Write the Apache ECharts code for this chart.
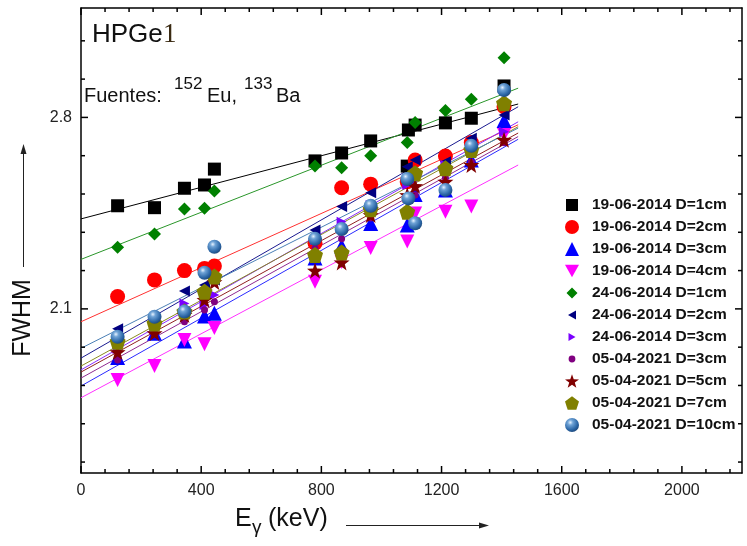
<!DOCTYPE html>
<html>
<head>
<meta charset="utf-8">
<script src="https://cdn.jsdelivr.net/npm/echarts@6/dist/echarts.min.js"></script>
<style>
  html, body { margin: 0; padding: 0; background: #fff; }
  #chart { width: 747px; height: 546px; }
</style>
</head>
<body>
<div id="chart"></div>
<script>
// Gamma energies of the 152Eu lines (keV)
const energies = [121.8, 244.7, 344.3, 411.1, 444.0, 778.9, 867.4, 964.1, 1085.8, 1089.7, 1112.1, 1212.9, 1299.1, 1408.0];

// Measured FWHM per run (null = line not measured)
const fwhm_140619_d1 = [2.477, 2.470, 2.541, 2.553, 2.611, 2.641, 2.670, 2.714, 2.622, 2.754, 2.772, 2.780, 2.797, 2.915];
const fwhm_140619_d2 = [2.145, 2.206, 2.240, 2.248, 2.257, 2.340, 2.543, 2.556, 2.565, null, 2.644, 2.659, 2.708, 2.839];
const fwhm_140619_d3 = [1.922, 2.011, 1.983, 2.074, 2.084, 2.286, 2.330, 2.412, 2.407, null, 2.518, 2.535, 2.644, 2.789];
const fwhm_140619_d4 = [1.840, 1.891, 1.986, 1.971, 2.030, 2.199, 2.271, 2.323, 2.346, null, 2.449, 2.455, 2.474, 2.736];
const fwhm_240614_d1 = [2.325, 2.374, 2.465, 2.468, 2.531, 2.622, 2.616, 2.660, 2.708, null, 2.781, 2.825, 2.866, 3.018];
const fwhm_240614_d2 = [2.027, 2.059, 2.165, 2.187, 2.206, 2.388, 2.474, 2.525, 2.620, null, 2.644, 2.638, 2.724, 2.809];
const fwhm_240614_d3 = [1.953, 2.023, 2.120, 2.114, 2.151, 2.352, 2.419, 2.480, 2.553, null, 2.571, 2.626, 2.682, 2.748];
const fwhm_210405_d3 = [1.913, 2.019, 2.053, 2.096, 2.126, 2.323, 2.356, 2.432, 2.498, null, 2.516, 2.579, 2.637, 2.707];
const fwhm_210405_d5 = [1.942, 2.011, 2.078, 2.133, 2.198, 2.240, 2.270, 2.443, 2.516, null, 2.549, 2.565, 2.626, 2.718];
const fwhm_210405_d7 = [1.980, 2.047, 2.090, 2.163, 2.218, 2.297, 2.306, 2.464, 2.455, null, 2.596, 2.614, 2.681, 2.852];
const fwhm_210405_d10 = [1.998, 2.071, 2.090, 2.232, 2.327, 2.356, 2.392, 2.477, 2.575, 2.504, 2.413, 2.535, 2.696, 2.900];

// Linear fits: energy span and FWHM at both ends of the span
const fitRange = [0, 1455];
const fit_140619_d1 = [2.429, 2.849];
const fit_140619_d2 = [2.053, 2.773];
const fit_140619_d3 = [1.818, 2.720];
const fit_140619_d4 = [1.775, 2.626];
const fit_240614_d1 = [2.281, 2.907];
const fit_240614_d2 = [1.920, 2.839];
const fit_240614_d3 = [1.877, 2.784];
const fit_210405_d3 = [1.847, 2.730];
const fit_210405_d5 = [1.869, 2.743];
const fit_210405_d7 = [1.891, 2.766];
const fit_210405_d10 = [1.956, 2.761];

const seriesNames = [
  '19-06-2014 D=1cm', '19-06-2014 D=2cm', '19-06-2014 D=3cm', '19-06-2014 D=4cm',
  '24-06-2014 D=1cm', '24-06-2014 D=2cm', '24-06-2014 D=3cm',
  '05-04-2021 D=3cm', '05-04-2021 D=5cm', '05-04-2021 D=7cm', '05-04-2021 D=10cm'
];
const seriesValues = [
  fwhm_140619_d1, fwhm_140619_d2, fwhm_140619_d3, fwhm_140619_d4,
  fwhm_240614_d1, fwhm_240614_d2, fwhm_240614_d3,
  fwhm_210405_d3, fwhm_210405_d5, fwhm_210405_d7, fwhm_210405_d10
];
const seriesFits = [
  fit_140619_d1, fit_140619_d2, fit_140619_d3, fit_140619_d4,
  fit_240614_d1, fit_240614_d2, fit_240614_d3,
  fit_210405_d3, fit_210405_d5, fit_210405_d7, fit_210405_d10
];

// Axis ranges and tick values
const xRange = [0, 2200];
const yRange = [1.5, 3.2];
const xMajor = [0, 400, 800, 1200, 1600, 2000];
const xMinor = [80, 160, 240, 320, 480, 560, 640, 720, 880, 960, 1040, 1120,
                1280, 1360, 1440, 1520, 1680, 1760, 1840, 1920, 2080, 2160];
const yMajor = [2.1, 2.8];
const yMinor = [1.54, 1.68, 1.82, 1.96, 2.24, 2.38, 2.52, 2.66, 2.94, 3.08];

// Marker shapes
const STAR = 'path://M0,-10 L2.35,-3.24 L9.51,-3.09 L3.8,1.24 L5.88,8.09 L0,4 L-5.88,8.09 L-3.8,1.24 L-9.51,-3.09 L-2.35,-3.24 Z';
const PENTAGON = 'path://M0,-10 L9.51,-3.09 L5.88,8.09 L-5.88,8.09 L-9.51,-3.09 Z';
const TRI_DOWN = 'path://M0,0 L10,0 L5,9 Z';
const TRI_LEFT = 'path://M9,0 L9,10 L0,5 Z';
const TRI_RIGHT = 'path://M0,0 L0,10 L9,5 Z';
// smaller legend glyphs inside the 14x14 key box (corner anchors fix the box)
const BOX = ' M0,0 L0.01,0.01 M14,14 L13.99,13.99';
const KEY_DOT = 'path://M3.6,7 A3.4,3.4 0 1,1 10.4,7 A3.4,3.4 0 1,1 3.6,7 Z' + BOX;
const KEY_DIAMOND = 'path://M7,1.5 L12.5,7 L7,12.5 L1.5,7 Z' + BOX;
const KEY_LEFT = 'path://M11,2.5 L11,11.5 L3,7 Z' + BOX;
const KEY_RIGHT = 'path://M3.5,3 L3.5,11 L10.5,7 Z' + BOX;
const KEY_SQUARE = 'path://M1,1 L13,1 L13,13 L1,13 Z' + BOX;

const ball = {
  type: 'radial', x: 0.38, y: 0.32, r: 0.75,
  colorStops: [
    { offset: 0, color: '#e6f2ff' },
    { offset: 0.25, color: '#6fa3d6' },
    { offset: 0.7, color: '#2b66a6' },
    { offset: 1, color: '#1a4272' }
  ]
};
const styles = [
  { symbol: 'rect', size: 13, color: '#000000', line: '#000000', key: KEY_SQUARE },
  { symbol: 'circle', size: 15, color: '#ff0000', line: '#ff3030' },
  { symbol: 'triangle', size: 15, color: '#0000ff', line: '#2a2aff' },
  { symbol: TRI_DOWN, size: 14, color: '#ff00ff', line: '#ff30ff' },
  { symbol: 'diamond', size: 13, color: '#008000', line: '#2a962a', key: KEY_DIAMOND },
  { symbol: TRI_LEFT, size: 11, color: '#000080', line: '#1a1a90', key: KEY_LEFT },
  { symbol: TRI_RIGHT, size: 10, color: '#7a00ff', line: '#8a2aff', key: KEY_RIGHT },
  { symbol: 'circle', size: 7, color: '#800080', line: '#902a90', key: KEY_DOT },
  { symbol: STAR, size: 16, color: '#800000', line: '#902020' },
  { symbol: PENTAGON, size: 16, color: '#808000', line: '#8a8a20' },
  { symbol: 'circle', size: 14, color: ball, line: '#4a7fb5' }
];

const FONT = 'Liberation Sans, Arial, sans-serif';

const series = [];
// fit lines underneath the points
seriesValues.forEach((vals, i) => {
  series.push({
    type: 'line',
    name: seriesNames[i] + ' fit',
    data: [[fitRange[0], seriesFits[i][0]], [fitRange[1], seriesFits[i][1]]],
    showSymbol: false,
    symbol: 'none',
    lineStyle: { color: styles[i].line, width: 1 },
    z: 1
  });
});
// measured points
seriesValues.forEach((vals, i) => {
  const pts = [];
  vals.forEach((v, k) => { if (v !== null) pts.push([energies[k], v]); });
  series.push({
    type: 'scatter',
    name: seriesNames[i],
    data: pts,
    symbol: styles[i].symbol,
    symbolSize: styles[i].size,
    itemStyle: { color: styles[i].color, opacity: 1 },
    z: 2 + i
  });
});

// inward tick marks on all four sides of the frame (major long, minor short)
const tickMarks = [];
['bottom', 'top'].forEach(side => {
  xMajor.forEach(v => tickMarks.push({ side: side, v: v, len: 7 }));
  xMinor.forEach(v => tickMarks.push({ side: side, v: v, len: 4 }));
});
['left', 'right'].forEach(side => {
  yMajor.forEach(v => tickMarks.push({ side: side, v: v, len: 7 }));
  yMinor.forEach(v => tickMarks.push({ side: side, v: v, len: 4 }));
});
series.push({
  type: 'custom',
  clip: false,
  z: 30,
  data: tickMarks.map(t => (t.side === 'bottom' || t.side === 'top') ? [t.v, yRange[0]] : [xRange[0], t.v]),
  renderItem: function (params, api) {
    const t = tickMarks[params.dataIndex];
    let p, shape;
    if (t.side === 'bottom') {
      p = api.coord([t.v, yRange[0]]);
      shape = { x1: p[0], y1: p[1], x2: p[0], y2: p[1] - t.len };
    } else if (t.side === 'top') {
      p = api.coord([t.v, yRange[1]]);
      shape = { x1: p[0], y1: p[1], x2: p[0], y2: p[1] + t.len };
    } else if (t.side === 'left') {
      p = api.coord([xRange[0], t.v]);
      shape = { x1: p[0], y1: p[1], x2: p[0] + t.len, y2: p[1] };
    } else {
      p = api.coord([xRange[1], t.v]);
      shape = { x1: p[0], y1: p[1], x2: p[0] - t.len, y2: p[1] };
    }
    return { type: 'line', shape: shape, style: { stroke: '#000', lineWidth: 1.5 } };
  }
});

function axisDef(range, pos, labels, fmt, margin) {
  return {
    type: 'value', position: pos, min: range[0], max: range[1],
    axisLine: { show: true, onZero: false, lineStyle: { color: '#000', width: 1.5 } },
    axisTick: { show: false },
    axisLabel: labels
      ? { show: true, customValues: labels, fontFamily: FONT, fontSize: 16, color: '#222', margin: margin, formatter: fmt }
      : { show: false },
    splitLine: { show: false }
  };
}

const option = {
  animation: false,
  grid: { left: 81, right: 5, top: 8, bottom: 73 },
  xAxis: [
    axisDef(xRange, 'bottom', xMajor, v => String(v), 10),
    axisDef(xRange, 'top', null)
  ],
  yAxis: [
    axisDef(yRange, 'left', yMajor, v => v.toFixed(1), 9),
    axisDef(yRange, 'right', null)
  ],
  legend: {
    orient: 'vertical',
    left: 560,
    top: 192,
    itemWidth: 14,
    itemHeight: 14,
    itemGap: 6,
    data: seriesNames.map((n, i) => styles[i].key ? { name: n, icon: styles[i].key } : { name: n }),
    textStyle: { fontFamily: FONT, fontSize: 15.5, fontWeight: 'bold', color: '#111', padding: [0, 0, 0, 8] },
    selectedMode: false
  },
  series: series,
  graphic: [
    // title
    { type: 'text', left: 92, top: 22, style: { text: 'HPGe', font: '26px ' + FONT, fill: '#111' } },
    { type: 'text', left: 163, top: 21, style: { text: '1', font: '27px "Liberation Serif", serif', fill: '#3a2a12' } },
    // sources
    { type: 'text', left: 84, top: 86, style: { text: 'Fuentes:', font: '20px ' + FONT, fill: '#111' } },
    { type: 'text', left: 174, top: 76, style: { text: '152', font: '17px ' + FONT, fill: '#111' } },
    { type: 'text', left: 207, top: 86, style: { text: 'Eu,', font: '20px ' + FONT, fill: '#111' } },
    { type: 'text', left: 244, top: 76, style: { text: '133', font: '17px ' + FONT, fill: '#111' } },
    { type: 'text', left: 276, top: 86, style: { text: 'Ba', font: '20px ' + FONT, fill: '#111' } },
    // x axis name with arrow
    { type: 'text', left: 235, top: 507, style: { text: 'E', font: '25px ' + FONT, fill: '#111' } },
    { type: 'text', left: 252, top: 518, style: { text: 'γ', font: '19px ' + FONT, fill: '#111' } },
    { type: 'text', left: 268, top: 507, style: { text: '(keV)', font: '25px ' + FONT, fill: '#111' } },
    { type: 'line', shape: { x1: 346, y1: 525.5, x2: 482, y2: 525.5 }, style: { stroke: '#222', lineWidth: 1 } },
    { type: 'polygon', shape: { points: [[489, 525.5], [479, 522.5], [479, 528.5]] }, style: { fill: '#222' } },
    // y axis name with arrow
    { type: 'text', x: 23, y: 318, rotation: Math.PI / 2,
      style: { text: 'FWHM', font: '25px ' + FONT, fill: '#111', align: 'center', verticalAlign: 'middle' } },
    { type: 'line', shape: { x1: 23.5, y1: 267, x2: 23.5, y2: 152 }, style: { stroke: '#222', lineWidth: 1 } },
    { type: 'polygon', shape: { points: [[23.5, 144], [20.5, 154], [26.5, 154]] }, style: { fill: '#222' } }
  ]
};

const chart = echarts.init(document.getElementById('chart'));
chart.setOption(option);
</script>
</body>
</html>
